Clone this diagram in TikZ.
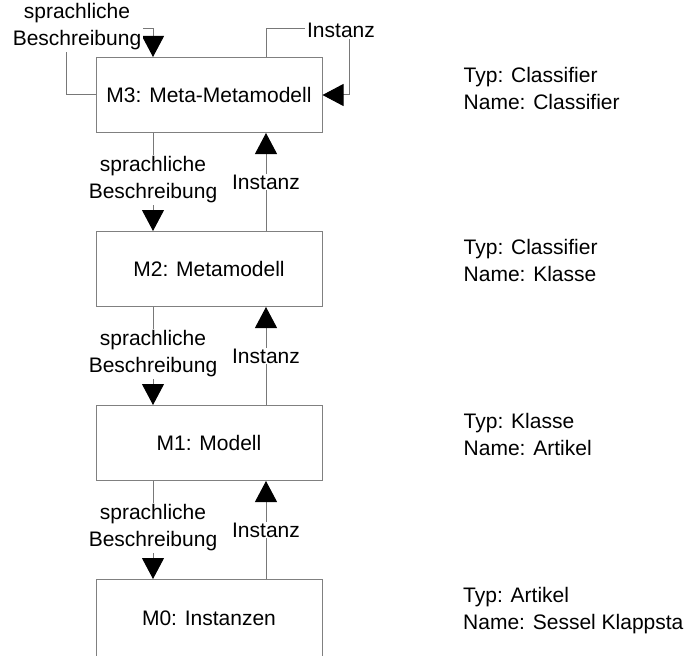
\documentclass[tikz,border=0pt]{standalone}
\usepackage{fontspec}
\setmainfont{Liberation Sans}
\usetikzlibrary{arrows.meta}
\definecolor{framegray}{RGB}{128,128,128}
\definecolor{wiregray}{RGB}{120,120,120}

\begin{document}
\begin{tikzpicture}[x=1pt,y=-1pt,
  txt/.style={font=\fontsize{21}{27}\selectfont},
  layer/.style={txt, draw=framegray, line width=1pt, fill=white,
    minimum width=226pt, minimum height=75pt, inner sep=0pt},
  link/.style={draw=wiregray, line width=1pt,
    -{Triangle[width=22pt,length=21pt,color=black]}},
  lbl/.style={txt, fill=white, align=center, inner sep=2pt},
  info/.style={txt, anchor=west, align=left, inner sep=0pt}]

\useasboundingbox (0,0) rectangle (684,655);
\clip (0,0) rectangle (684,655);

% the four modelling layers (the lowest one runs past the lower edge)
\node[layer] (m3) at (209,95)  {M3: Meta-Metamodell};
\node[layer] (m2) at (209,269) {M2: Metamodell};
\node[layer] (m1) at (209,443) {M1: Modell};
\node[layer, anchor=north, text height=45.5pt, text depth=44.5pt] (m0)
  at (209,579) {M0: Instanzen};

% descriptions beside each layer
\node[info] (t3) at ([xshift=141pt,yshift=7pt]m3.east) {Typ: Classifier\\Name: Classifier};
\node[info] (t2) at ([xshift=141pt,yshift=9pt]m2.east) {Typ: Classifier\\Name: Klasse};
\node[info] (t1) at ([xshift=141pt,yshift=9pt]m1.east) {Typ: Klasse\\Name: Artikel};
\node[info] (t0) at (463,610.5) {Typ: Artikel\\Name: Sessel Klappsta};

% self references of the top layer
\draw[link] (m3.west) -- ++(-29,0) |- ([xshift=-56pt,yshift=28pt]m3.north)
  -- ([xshift=-56pt]m3.north);
\node[lbl] (s3) at (77,27) {sprachliche\\Beschreibung};
\draw[link] ([xshift=57pt]m3.north) |- ([xshift=27pt,yshift=66pt]m3.east)
  -- ([xshift=27pt]m3.east) -- (m3.east);
\node[lbl] (i3) at (341,30) {Instanz};

% links between neighbouring layers
\foreach \upper/\lower in {m3/m2, m2/m1, m1/m0}{
  \draw[link] ([xshift=-56pt]\upper.south) -- ([xshift=-56pt]\lower.north)
    node[lbl, pos=0.48] {sprachliche\\Beschreibung};
  \draw[link] ([xshift=57pt]\lower.north) -- ([xshift=57pt]\upper.south)
    node[lbl, pos=0.5, inner sep=1pt] {Instanz};
}
\end{tikzpicture}
\end{document}
